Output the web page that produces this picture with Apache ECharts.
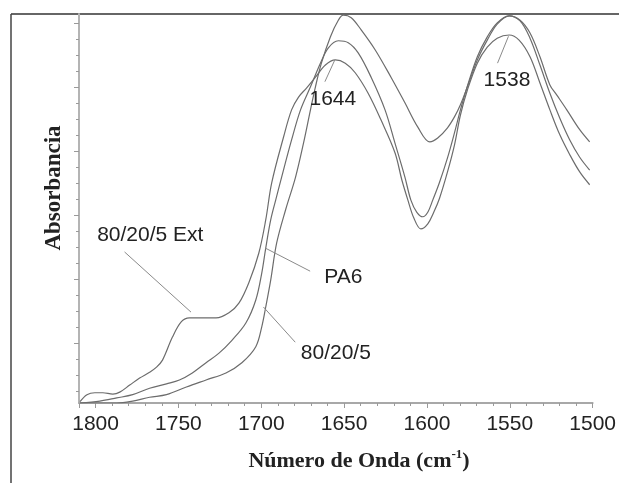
<!DOCTYPE html>
<html>
<head>
  <meta charset="utf-8">
  <title>Absorbancia</title>
  <script src="https://cdn.jsdelivr.net/npm/echarts@6/dist/echarts.min.js"></script>
</head>
<body style="margin:0">
  <div id="main" style="width: 619px;height:483px;"></div>
  <script type="text/javascript">
    // 80/20/5 Ext
    var extWn = [1809.4, 1805.2, 1800.4, 1795.6, 1789.6, 1785.4, 1779.4, 1773.4, 1767.4, 1763.2, 1759.6, 1753.6, 1748.2, 1743.4, 1735.6, 1727.3, 1719.5, 1713.5, 1707.5, 1701.5, 1697.3, 1693.7, 1686.5, 1681.7, 1677.5, 1672.7, 1667.3, 1661.3, 1655.3, 1649.3, 1643.3, 1635.5, 1627.7, 1619.3, 1615.1, 1611.5, 1607.9, 1603.7, 1599.5, 1595.9, 1592.4, 1587.6, 1583.4, 1579.8, 1575.6, 1569.6, 1563.6, 1557.6, 1550.4, 1544.4, 1537.8, 1531.8, 1525.8, 1519.8, 1513.8, 1507.8, 1501.8];
    var extAbs = [0.02, 0.13, 0.16, 0.16, 0.14, 0.17, 0.28, 0.39, 0.48, 0.56, 0.67, 1.03, 1.27, 1.33, 1.33, 1.33, 1.41, 1.56, 1.88, 2.34, 2.86, 3.44, 4.16, 4.58, 4.78, 4.92, 5.09, 5.28, 5.36, 5.31, 5.16, 4.84, 4.42, 3.91, 3.48, 3.17, 2.89, 2.72, 2.80, 2.98, 3.20, 3.61, 4.03, 4.50, 4.89, 5.31, 5.56, 5.70, 5.75, 5.67, 5.41, 5.00, 4.58, 4.19, 3.88, 3.61, 3.41];
    // PA6
    var pa6Wn = [1809.4, 1797.4, 1787.2, 1777.6, 1767.4, 1757.2, 1749.4, 1741.6, 1733.3, 1725.5, 1717.7, 1709.3, 1703.3, 1699.7, 1697.3, 1694.3, 1691.3, 1687.7, 1681.7, 1676.3, 1670.3, 1664.3, 1659.5, 1653.5, 1647.5, 1641.5, 1633.7, 1625.3, 1619.3, 1613.3, 1609.7, 1606.1, 1602.5, 1599.5, 1596.5, 1592.4, 1587.6, 1583.4, 1579.8, 1575.6, 1569.6, 1563.6, 1557.6, 1550.4, 1543.8, 1537.8, 1531.8, 1525.8, 1519.8, 1513.8, 1507.8, 1501.8];
    var pa6Abs = [0, 0.03, 0.08, 0.13, 0.23, 0.30, 0.36, 0.47, 0.63, 0.78, 0.98, 1.25, 1.61, 2.03, 2.42, 2.86, 3.17, 3.53, 4.11, 4.58, 4.94, 5.31, 5.55, 5.66, 5.63, 5.47, 5.09, 4.58, 4.06, 3.53, 3.17, 2.98, 2.91, 2.98, 3.17, 3.45, 3.83, 4.22, 4.58, 4.95, 5.41, 5.72, 5.94, 6.05, 5.97, 5.70, 5.28, 4.84, 4.45, 4.11, 3.84, 3.64];
    // 80/20/5
    var mixWn = [1809.4, 1787.2, 1777.6, 1767.4, 1757.2, 1745.2, 1733.3, 1721.3, 1711.7, 1703.3, 1699.7, 1697.3, 1694.3, 1690.7, 1685.3, 1679.3, 1674.5, 1670.3, 1667.3, 1663.7, 1658.3, 1653.5, 1650.5, 1645.7, 1639.7, 1631.3, 1621.7, 1613.3, 1605.5, 1598.3, 1593.5, 1587.6, 1583.4, 1579.8, 1575.6, 1569.6, 1563.6, 1557.6, 1550.4, 1543.8, 1537.8, 1531.8, 1525.8, 1521.6, 1515.6, 1507.8, 1501.8];
    var mixAbs = [0, 0, 0.03, 0.09, 0.13, 0.25, 0.36, 0.47, 0.63, 0.88, 1.19, 1.50, 1.92, 2.50, 3.02, 3.53, 4.06, 4.58, 4.94, 5.31, 5.72, 5.98, 6.06, 6.02, 5.83, 5.52, 5.09, 4.69, 4.31, 4.08, 4.14, 4.30, 4.47, 4.66, 4.94, 5.36, 5.67, 5.92, 6.05, 5.98, 5.78, 5.41, 4.97, 4.81, 4.58, 4.27, 4.08];

    // y axis ticks (no labels in the original)
    var yMajorTicks = [0.93, 1.93, 2.93, 3.93, 4.93, 5.93];
    var yMinorTicks = [];
    for (var t = 0.18; t < 6.05; t += 0.25) yMinorTicks.push(+t.toFixed(2));

    // annotations: text, text anchor, leader line ends
    var noteText = ['80/20/5 Ext', 'PA6', '80/20/5', '1644', '1538'];
    var noteAt = [[1767, 2.62], [1650.5, 1.97], [1655, 0.78], [1656.8, 4.75], [1551.7, 5.04]];
    var leaderFrom = [[1782.5, 2.36], [1697.5, 2.42], [1698.7, 1.50], [1661.6, 5.02], [1557.4, 5.31]];
    var leaderTo = [[1742.4, 1.42], [1670.5, 2.06], [1679.5, 0.95], [1655.6, 5.36], [1550.8, 5.73]];

    function pairs(xs, ys) {
      var out = [];
      for (var i = 0; i < xs.length; i++) out.push([xs[i], ys[i]]);
      return out;
    }

    var lineGray = '#6c6c6c';
    var sans = 'Liberation Sans, Arial, sans-serif';
    var serif = 'Liberation Serif, Times New Roman, serif';

    var myChart = echarts.init(document.getElementById('main'));

    var notes = [], leaders = [];
    for (var i = 0; i < noteText.length; i++) {
      notes.push({ name: noteText[i], coord: noteAt[i] });
      leaders.push([{ coord: leaderFrom[i] }, { coord: leaderTo[i] }]);
    }

    function yAxisOf(ticks, len, showLine) {
      return {
        type: 'value', min: 0, max: 6.078, position: 'left',
        axisLine: { show: showLine, lineStyle: { color: '#b4b4b4', width: 2 } },
        axisTick: { show: true, customValues: ticks, length: len, lineStyle: { color: '#9a9a9a', width: 1 } },
        axisLabel: { show: false },
        splitLine: { show: false }
      };
    }

    myChart.setOption({
      animation: false,
      backgroundColor: '#fff',
      grid: { left: 79, right: 22, top: 14, bottom: 80 },
      xAxis: {
        type: 'value', inverse: true, min: 1500, max: 1810, interval: 50,
        axisLine: { lineStyle: { color: '#a8a8a8', width: 2 } },
        axisTick: { length: 5, lineStyle: { color: '#9a9a9a' } },
        minorTick: { show: true, splitNumber: 5, length: 3, lineStyle: { color: '#9a9a9a' } },
        axisLabel: {
          margin: 11, fontSize: 21, color: '#222', fontFamily: sans,
          formatter: function (v) { return v % 50 === 0 ? String(v) : ''; }
        },
        splitLine: { show: false }
      },
      yAxis: [yAxisOf(yMajorTicks, 5, true), yAxisOf(yMinorTicks, 3, false)],
      series: [
        {
          name: '80/20/5 Ext', type: 'line', data: pairs(extWn, extAbs),
          smooth: 0.35, showSymbol: false, lineStyle: { color: lineGray, width: 1.2 },
          markLine: {
            silent: true, symbol: ['none', 'none'], label: { show: false },
            lineStyle: { color: '#8a8a8a', width: 1, type: 'solid' },
            data: leaders
          },
          markPoint: {
            silent: true, symbol: 'circle', symbolSize: 1,
            itemStyle: { color: 'transparent' },
            label: { show: true, position: 'inside', formatter: '{b}', fontSize: 21, color: '#222', fontFamily: sans },
            data: notes
          }
        },
        {
          name: 'PA6', type: 'line', data: pairs(pa6Wn, pa6Abs),
          smooth: 0.35, showSymbol: false, lineStyle: { color: lineGray, width: 1.2 }
        },
        {
          name: '80/20/5', type: 'line', data: pairs(mixWn, mixAbs),
          smooth: 0.35, showSymbol: false, lineStyle: { color: lineGray, width: 1.2 }
        }
      ],
      graphic: [
        { type: 'line', shape: { x1: 11, y1: 14, x2: 619, y2: 14 }, style: { stroke: '#333', lineWidth: 1.5 } },
        { type: 'line', shape: { x1: 11, y1: 14, x2: 11, y2: 483 }, style: { stroke: '#444', lineWidth: 1.5 } },
        {
          type: 'text', x: 54, y: 188, rotation: Math.PI / 2,
          style: { text: 'Absorbancia', font: 'bold 23px ' + serif, fill: '#222', textAlign: 'center', textVerticalAlign: 'middle' }
        },
        {
          type: 'text', x: 359, y: 461,
          style: {
            text: '{m|Número de Onda (cm}{s|-1}{m|)}', textAlign: 'center', textVerticalAlign: 'middle', fill: '#222',
            rich: {
              m: { fontFamily: serif, fontWeight: 'bold', fontSize: 22, fill: '#222' },
              s: { fontFamily: serif, fontWeight: 'bold', fontSize: 13, fill: '#222', padding: [0, 0, 12, 0] }
            }
          }
        }
      ]
    });
  </script>
</body>
</html>
